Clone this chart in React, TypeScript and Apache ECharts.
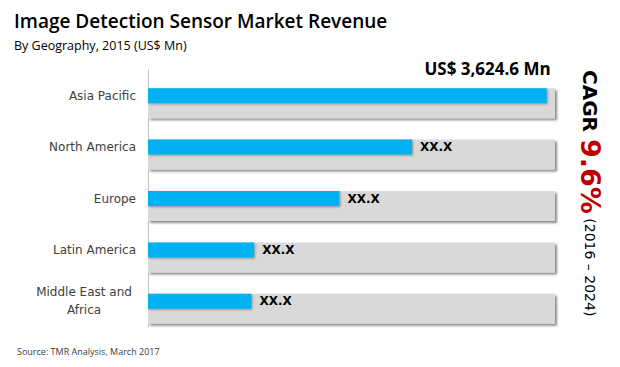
import React, { useEffect, useRef } from "react";
import * as echarts from "echarts";

const categories = ["Asia Pacific", "North America", "Europe", "Latin America", "Middle East and Africa"];
const revenue = [3624.6, 2400, 1740, 965, 940];
const valueLabels = ["", "XX.X", "XX.X", "XX.X", "XX.X"];
const axisMax = 3700;
const topLabel = "US$ 3,624.6 Mn";

export default function App() {
  const ref = useRef<HTMLDivElement>(null);
  useEffect(() => {
    const chart = echarts.init(ref.current!, null, { renderer: "svg" });
    const catFont = "'DejaVu Sans', sans-serif";
    chart.setOption({
      animation: false,
      backgroundColor: "#ffffff",
      grid: { left: 148, right: 65, top: 70, bottom: 40, containLabel: false },
      xAxis: {
        type: "value",
        min: 0,
        max: axisMax,
        show: false,
      },
      yAxis: {
        type: "category",
        inverse: true,
        data: categories,
        axisLine: { show: true, lineStyle: { color: "#bfbfbf", width: 1 } },
        axisTick: { show: false },
        axisLabel: {
          margin: 12,
          color: "#404040",
          fontFamily: catFont,
          fontSize: 12,
          formatter: (v: string) =>
            v === "Middle East and Africa" ? "{c|Middle East and}\n{c|Africa}" : v,
          rich: {
            c: { width: 104, align: "center", fontFamily: catFont, fontSize: 12, color: "#404040", lineHeight: 18 },
          },
        },
      },
      series: [
        {
          type: "bar",
          data: categories.map(() => axisMax),
          barWidth: 30,
          barGap: "-100%",
          silent: true,
          itemStyle: {
            color: "#d9d9d9",
            shadowColor: "rgba(0,0,0,0.45)",
            shadowBlur: 2,
            shadowOffsetX: 2,
            shadowOffsetY: 2,
          },
          z: 1,
        },
        {
          type: "bar",
          data: revenue.map((v, i) =>
            i === 0
              ? {
                  value: v,
                  label: {
                    show: true,
                    position: ["100%", -28],
                    align: "right",
                    verticalAlign: "top",
                    offset: [4, 0],
                    formatter: topLabel,
                    fontFamily: "'Open Sans', sans-serif",
                    fontWeight: "bold",
                    fontSize: 17,
                    color: "#000",
                  },
                }
              : { value: v }
          ),
          barWidth: 15,
          barGap: "-100%",
          itemStyle: {
            color: "#00b0f0",
            shadowColor: "rgba(0,0,0,0.35)",
            shadowBlur: 2,
            shadowOffsetX: 1,
            shadowOffsetY: 1,
          },
          label: {
            show: true,
            position: "right",
            distance: 8,
            formatter: (p: any) => valueLabels[p.dataIndex],
            fontFamily: catFont,
            fontWeight: "bold",
            fontSize: 12,
            color: "#000",
          },
          z: 2,
        },
      ],
      graphic: [
        {
          type: "text",
          left: 14,
          top: 11,
          style: {
            text: "Image Detection Sensor Market Revenue",
            fontFamily: "'Open Sans', sans-serif",
            fontWeight: 600,
            fontSize: 19,
            fill: "#000",
          },
        },
        {
          type: "text",
          left: 14,
          top: 39,
          style: {
            text: "By Geography, 2015 (US$ Mn)",
            fontFamily: "'Open Sans', sans-serif",
            fontSize: 12.5,
            fill: "#000",
          },
        },
        {
          type: "text",
          left: 17,
          top: 347,
          style: {
            text: "Source: TMR Analysis, March 2017",
            fontFamily: "'Open Sans', sans-serif",
            fontSize: 9,
            fill: "#404040",
          },
        },
        {
          type: "text",
          x: 590,
          y: 70,
          rotation: -Math.PI / 2,
          style: {
            text: "{a|CAGR }{b|9.6%}{c| (2016 – 2024)}",
            textAlign: "left",
            textVerticalAlign: "middle",
            rich: {
              a: { fontFamily: "'DejaVu Sans', sans-serif", fontWeight: "bold", fontSize: 20, fill: "#000", color: "#000" },
              b: { fontFamily: "'DejaVu Sans', sans-serif", fontWeight: "bold", fontSize: 27, fill: "#c00000", color: "#c00000" },
              c: { fontFamily: "'DejaVu Sans', sans-serif", fontSize: 14, fill: "#000", color: "#000" },
            },
          },
        },
      ],
    });
    return () => chart.dispose();
  }, []);
  return <div ref={ref} style={{ width: 620, height: 367, margin: -8 }} />;
}
